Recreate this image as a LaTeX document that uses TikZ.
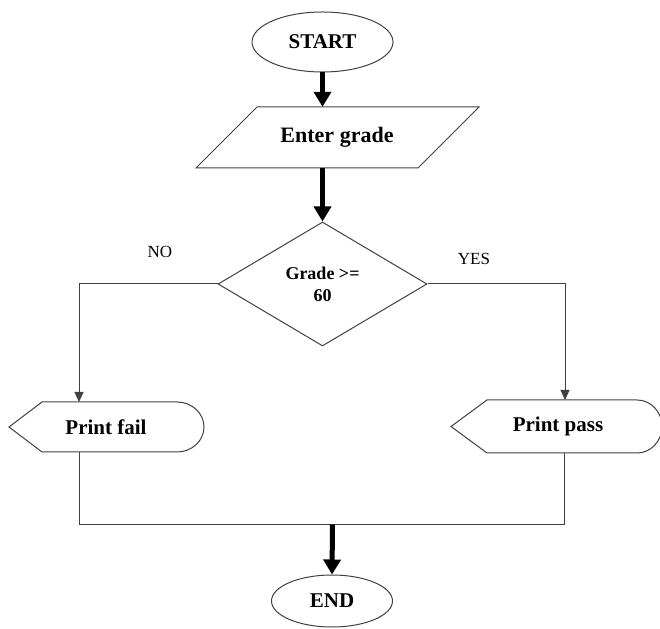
\documentclass[tikz,border=0pt]{standalone}
\usepackage{fontspec}
\setmainfont{Liberation Serif}
\usetikzlibrary{arrows.meta,shapes.geometric}

\tikzset{
  outline/.style={draw=black!75, line width=1pt},
  flow/.style={draw=black!75, line width=1pt, -{Triangle[width=9pt,length=10pt]}},
  heavy/.style={draw=black, line width=5pt, -{Triangle[width=17pt,length=15pt]}},
  plain/.style={draw=black!75, line width=1pt},
  lbl/.style={font=\fontsize{21}{24}\selectfont\bfseries, inner sep=0pt},
  side/.style={font=\fontsize{17}{20}\selectfont, inner sep=0pt}
}

\begin{document}
\begin{tikzpicture}[x=1pt, y=1pt]
  \useasboundingbox (0,0) rectangle (660,628);

  % terminals
  \node[ellipse, outline, minimum width=141pt, minimum height=60pt, lbl] (start) at (322.5,586) {START};
  \node[ellipse, outline, minimum width=121pt, minimum height=52pt, lbl] (stop) at (332,27) {END};

  % input parallelogram
  \draw[outline] (196,460) -- (257,521) -- (479,521) -- (418,460) -- cycle;
  \node[lbl, minimum height=61pt] (enter) at (337,490.5) {\fontsize{22}{24}\selectfont Enter grade};

  % decision
  \node[diamond, outline, minimum width=209pt, minimum height=124pt, inner sep=0pt,
        align=center, font=\fontsize{18}{22}\selectfont\bfseries] (dec) at (322.5,344) {Grade >=\\60};

  % display shapes
  \draw[outline] (9,201) -- (42,226) -- (177,226)
      arc[start angle=90, end angle=-90, x radius=27, y radius=25] -- (42,176) -- cycle;
  \node[lbl] (fail) at (106,201) {Print fail};

  \draw[outline] (451,201.5) -- (487,228) -- (637,228)
      arc[start angle=90, end angle=-90, x radius=25, y radius=26.5] -- (487,175) -- cycle;
  \node[lbl] (pass) at (558,201.5) {Print pass};

  % connection points on the display shapes
  \coordinate (failin) at (79,226);
  \coordinate (failout) at (79,176);
  \coordinate (passin) at (565,228);
  \coordinate (passout) at (564,175);
  \coordinate (join) at (332.5,103.5);

  % connectors
  \draw[heavy] (start.south) -- (start.south |- enter.north);
  \draw[heavy] (dec.north |- enter.south) -- (dec.north);
  \draw[flow] (dec.west) -| (failin);
  \draw[flow] (dec.east) -| (passin);
  \draw[plain] (failout) |- (join) -| (passout);
  \draw[heavy] (join) -- (stop.north);

  % branch labels
  \node[side] (no) at (160,376) {NO};
  \node[side] (yes) at (474,369) {YES};
\end{tikzpicture}
\end{document}
